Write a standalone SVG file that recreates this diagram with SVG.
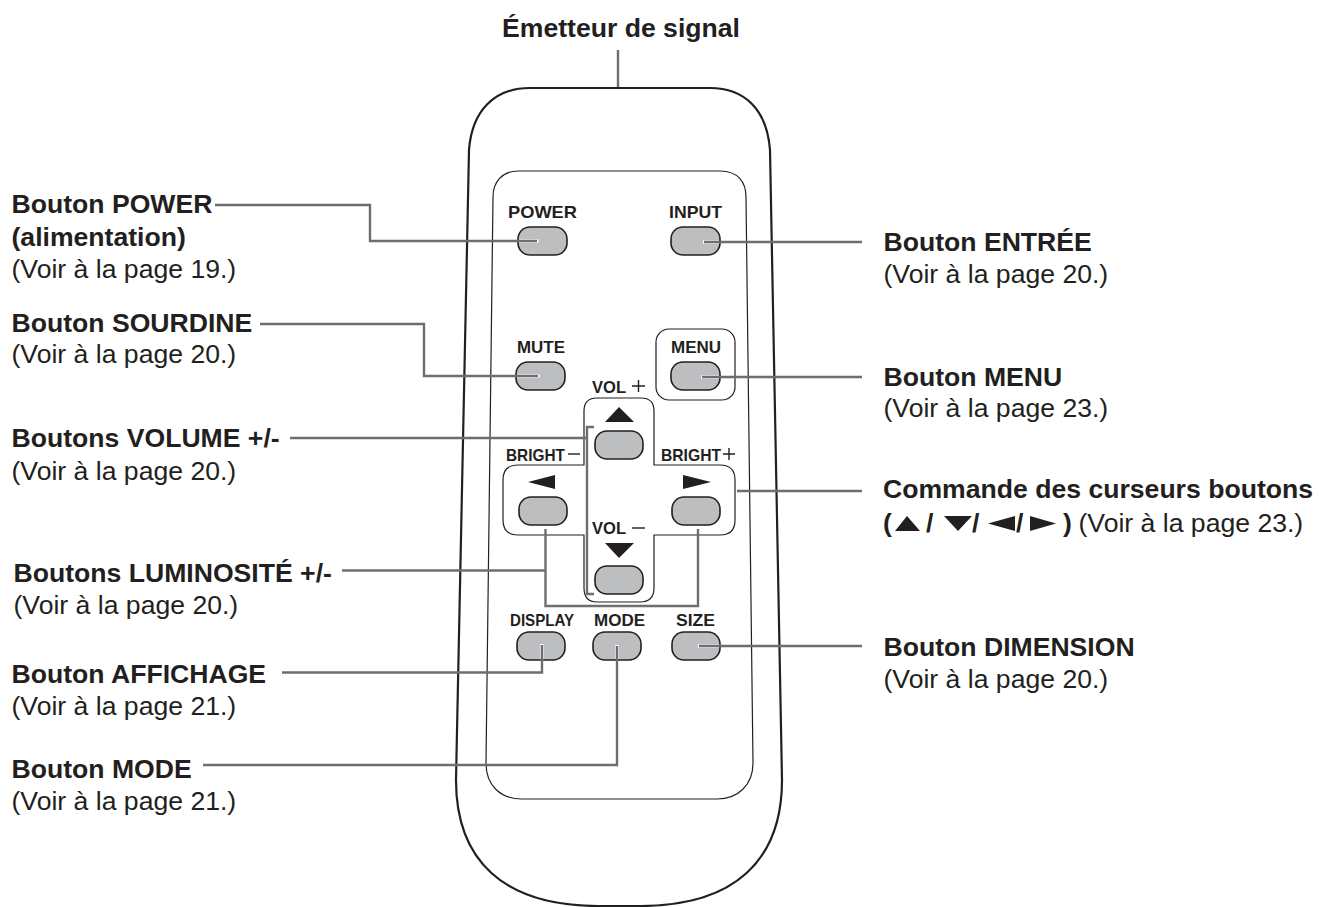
<svg xmlns="http://www.w3.org/2000/svg" width="1319" height="907" viewBox="0 0 1319 907">
<style>
text{font-family:"Liberation Sans",Arial,sans-serif;fill:#231f20}
.l{font-size:26.6px}
.b{font-weight:bold}
.k{font-size:17px;font-weight:bold}
.o{fill:none;stroke:#231f20;stroke-width:2.2}
.s{fill:none;stroke:#231f20;stroke-width:1.2}
.m{fill:none;stroke:#231f20;stroke-width:1.4}
.bt{fill:#bcbec0;stroke:#231f20;stroke-width:1.6}
.c{fill:none;stroke:#6d6e71;stroke-width:2.4}
.h{fill:none;stroke:#fff;stroke-width:3.6}
.t{fill:#231f20}
</style>
<rect width="1319" height="907" fill="#fff"/>
<g id="remote">
<path class="o" d="M530 88H710C745 88 767 110 770 150L782 780C782 860 735 906 640 906H598C503 906 456 860 456 780L469 150C472 110 495 88 530 88Z"/>
<path class="s" d="M518 171H720C738 171 746 182 746 197L753 763C753 785 738 799 717 799H522C500 799 486 785 486 763L493 197C493 182 502 171 518 171Z"/>
<path class="s" d="M597 398H641Q654 398 654 411V465H720Q735 465 735 480V520Q735 535 720 535H654V588Q654 602 640 602H597Q584 602 584 588V535H518Q503 535 503 520V480Q503 465 518 465H584V411Q584 398 597 398Z"/>
<rect class="s" x="656" y="329" width="79" height="71" rx="13"/>
</g>
<g id="btn-power"><rect class="bt" x="518" y="227" width="49" height="28" rx="12"/><text class="k" x="508" y="218" textLength="69" lengthAdjust="spacingAndGlyphs">POWER</text></g>
<g id="btn-input"><rect class="bt" x="671" y="227" width="49" height="28" rx="12"/><text class="k" x="669" y="218" textLength="53" lengthAdjust="spacingAndGlyphs">INPUT</text></g>
<g id="btn-mute"><rect class="bt" x="516" y="362" width="49" height="28" rx="12"/><text class="k" x="517" y="353" textLength="48" lengthAdjust="spacingAndGlyphs">MUTE</text></g>
<g id="btn-menu"><rect class="bt" x="671" y="362" width="49" height="28" rx="12"/><text class="k" x="671" y="353" textLength="50" lengthAdjust="spacingAndGlyphs">MENU</text></g>
<g id="btn-up"><rect class="bt" x="595" y="431" width="48" height="28" rx="12"/><polygon class="t" points="619,407 634,422 605,422"/><text class="k" x="592" y="393" textLength="34" lengthAdjust="spacingAndGlyphs">VOL</text><path class="m" d="M632 386H645M638.500 380V392"/></g>
<g id="btn-left"><rect class="bt" x="519" y="497" width="48" height="28" rx="12"/><polygon class="t" points="528,482 555,475 555,489"/><text class="k" x="506" y="461" textLength="59" lengthAdjust="spacingAndGlyphs">BRIGHT</text><path class="m" d="M568 454H580"/></g>
<g id="btn-right"><rect class="bt" x="672" y="497" width="48" height="28" rx="12"/><polygon class="t" points="711,482 683,475 683,489"/><text class="k" x="661" y="461" textLength="60" lengthAdjust="spacingAndGlyphs">BRIGHT</text><path class="m" d="M723 454H735M729 448V460"/></g>
<g id="btn-down"><rect class="bt" x="595" y="566" width="48" height="28" rx="12"/><polygon class="t" points="619,558 634,543 605,543"/><text class="k" x="592" y="534" textLength="34" lengthAdjust="spacingAndGlyphs">VOL</text><path class="m" d="M632 528H645"/></g>
<g id="btn-display"><rect class="bt" x="517" y="632" width="48" height="28" rx="12"/><text class="k" x="510" y="626" textLength="64" lengthAdjust="spacingAndGlyphs">DISPLAY</text></g>
<g id="btn-mode"><rect class="bt" x="593" y="632" width="48" height="28" rx="12"/><text class="k" x="594" y="626" textLength="51" lengthAdjust="spacingAndGlyphs">MODE</text></g>
<g id="btn-size"><rect class="bt" x="672" y="632" width="48" height="28" rx="12"/><text class="k" x="676" y="626" textLength="39" lengthAdjust="spacingAndGlyphs">SIZE</text></g>
<g id="connectors">
<path class="h" d="M519 241H538.500M703 242H719M517 376H539.500M701 377H719M698 646H719M542 644V659M617 645V659"/>
<path class="c" d="M618 50V87"/>
<path class="c" d="M215 205H370V241H537"/>
<path class="c" d="M260 324H424V376H538"/>
<path class="c" d="M290 438H587"/>
<path class="c" d="M594 427H587V594H594"/>
<path class="c" d="M342 570.500H545.500"/>
<path class="c" d="M545.500 529V606H698V529"/>
<path class="c" d="M282 672.500H542V645"/>
<path class="c" d="M203 765H617V646"/>
<path class="c" d="M704 242H862"/>
<path class="c" d="M702 377H862"/>
<path class="c" d="M737 491H862"/>
<path class="c" d="M699 646H862"/>
</g>
<g id="label-emitter"><text class="l b" x="621" y="37" text-anchor="middle">Émetteur de signal</text></g>
<g id="label-power"><text class="l b" x="11.500" y="213">Bouton POWER</text><text class="l b" x="11.500" y="246">(alimentation)</text><text class="l" x="11.500" y="278">(Voir à la page 19.)</text></g>
<g id="label-mute"><text class="l b" x="11.500" y="332">Bouton SOURDINE</text><text class="l" x="11.500" y="363">(Voir à la page 20.)</text></g>
<g id="label-volume"><text class="l b" x="11.500" y="447">Boutons VOLUME +/-</text><text class="l" x="11.500" y="480">(Voir à la page 20.)</text></g>
<g id="label-bright"><text class="l b" x="13.500" y="582">Boutons LUMINOSITÉ +/-</text><text class="l" x="13.500" y="614">(Voir à la page 20.)</text></g>
<g id="label-display"><text class="l b" x="11.500" y="683">Bouton AFFICHAGE</text><text class="l" x="11.500" y="715">(Voir à la page 21.)</text></g>
<g id="label-mode"><text class="l b" x="11.500" y="778">Bouton MODE</text><text class="l" x="11.500" y="810">(Voir à la page 21.)</text></g>
<g id="label-input"><text class="l b" x="883.500" y="251">Bouton ENTRÉE</text><text class="l" x="883.500" y="283">(Voir à la page 20.)</text></g>
<g id="label-menu"><text class="l b" x="883.500" y="386">Bouton MENU</text><text class="l" x="883.500" y="417">(Voir à la page 23.)</text></g>
<g id="label-cursor"><text class="l b" x="883" y="498">Commande des curseurs boutons</text>
<text class="l b" x="883" y="532">(</text><polygon class="t" points="895,531 907,516 920,531"/><text class="l b" x="926" y="532">/</text><polygon class="t" points="944,516 972,516 958,531"/><text class="l b" x="972" y="532">/</text><polygon class="t" points="988,523.500 1015,516 1015,531"/><text class="l b" x="1016" y="532">/</text><polygon class="t" points="1030,516 1056,523.500 1030,531"/><text class="l b" x="1063" y="532">)</text><text class="l" x="1078.500" y="532">(Voir à la page 23.)</text></g>
<g id="label-size"><text class="l b" x="883.500" y="656">Bouton DIMENSION</text><text class="l" x="883.500" y="688">(Voir à la page 20.)</text></g>
</svg>
